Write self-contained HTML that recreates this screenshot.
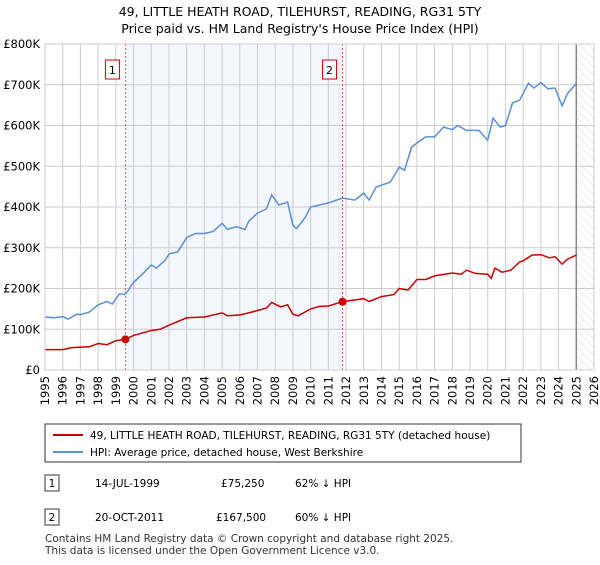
<!DOCTYPE html>
<html><head><meta charset="utf-8"><style>
body{margin:0;width:600px;height:560px;background:#fff;font-family:"Liberation Sans","DejaVu Sans",sans-serif;overflow:hidden}
svg text{font-family:"DejaVu Sans","Liberation Sans",sans-serif}
</style></head><body>
<svg width="600" height="560">
<defs><pattern id="hatch" width="6" height="6" patternUnits="userSpaceOnUse" patternTransform="rotate(-45)"><line x1="0" y1="0" x2="0" y2="6" stroke="#d8d8d8" stroke-width="1"/></pattern></defs>
<text x="300" y="16" text-anchor="middle" font-size="12.5">49, LITTLE HEATH ROAD, TILEHURST, READING, RG31 5TY</text>
<text x="300" y="33" text-anchor="middle" font-size="12.5">Price paid vs. HM Land Registry's House Price Index (HPI)</text>
<g id="plot"></g>
<g id="legend">
<rect x="45" y="424" width="476" height="38" fill="#fff" stroke="#333" stroke-width="1"/>
<line x1="53" y1="435" x2="83" y2="435" stroke="#cc0000" stroke-width="2"/>
<text x="90" y="439" font-size="10.5">49, LITTLE HEATH ROAD, TILEHURST, READING, RG31 5TY (detached house)</text>
<line x1="53" y1="452" x2="83" y2="452" stroke="#5b8fd6" stroke-width="2"/>
<text x="90" y="456" font-size="10.5">HPI: Average price, detached house, West Berkshire</text>
</g>
<g font-size="10.5">
<rect x="45" y="475" width="14" height="16" fill="#fff" stroke="#333"/><text x="52" y="487" text-anchor="middle">1</text>
<text x="95" y="487">14-JUL-1999</text><text x="221" y="487">£75,250</text><text x="295" y="487">62% ↓ HPI</text>
<rect x="45" y="509" width="14" height="16" fill="#fff" stroke="#333"/><text x="52" y="521" text-anchor="middle">2</text>
<text x="95" y="521">20-OCT-2011</text><text x="216" y="521">£167,500</text><text x="295" y="521">60% ↓ HPI</text>
</g>
<text x="45" y="542" font-size="10.5" fill="#333">Contains HM Land Registry data © Crown copyright and database right 2025.</text>
<text x="45" y="554" font-size="10.5" fill="#333">This data is licensed under the Open Government Licence v3.0.</text>
</svg>
<script>
const hpiYears=[1995,1995.5,1996,1996.3,1996.8,1997,1997.5,1998,1998.5,1998.8,1999.2,1999.5,1999.7,2000,2000.5,2001,2001.3,2001.8,2002,2002.5,2003,2003.5,2004,2004.5,2005,2005.3,2005.8,2006.3,2006.5,2007,2007.5,2007.8,2008.2,2008.7,2009,2009.2,2009.7,2010,2010.5,2011,2011.8,2012.5,2013,2013.3,2013.7,2014.5,2015,2015.3,2015.7,2016,2016.5,2017,2017.5,2018,2018.3,2018.8,2019.5,2020,2020.3,2020.7,2021,2021.4,2021.8,2022.3,2022.6,2023,2023.4,2023.8,2024.2,2024.5,2025];
const hpiValues=[130,128,131,125,137,136,142,160,168,162,187,185,195,215,235,258,250,270,285,290,325,335,335,340,360,345,352,345,365,385,395,430,405,412,355,347,375,400,405,410,422,417,434,417,449,461,498,490,547,557,572,572,596,590,600,588,588,564,618,596,600,655,662,704,692,705,690,692,648,678,703];
const ppYears=[1995,1996,1996.5,1997.5,1998,1998.5,1999,1999.54,2000,2001,2001.5,2002,2003,2004,2005,2005.3,2006,2006.5,2007.5,2007.8,2008.3,2008.7,2009,2009.3,2010,2010.5,2011,2011.8,2012.5,2013,2013.3,2014,2014.7,2015,2015.5,2016,2016.5,2017,2018,2018.5,2018.8,2019.3,2020,2020.2,2020.4,2020.8,2021.3,2021.8,2022,2022.5,2023,2023.5,2023.8,2024.2,2024.5,2025];
const ppValues=[50,50,55,57,65,62,72,75.25,85,97,100,110,128,130,140,133,135,140,152,166,155,160,137,133,150,156,157,167.5,172,175,168,180,185,200,196,222,222,231,238,235,245,237,235,225,250,240,245,265,268,282,283,275,278,260,272,282];
const saleYears=[1999.54,2011.8];
const saleValues=[75.25,167.5];
const saleLabels=["1","2"];
const yTicks=[0,100,200,300,400,500,600,700,800];
const yTickLabels=["£0","£100K","£200K","£300K","£400K","£500K","£600K","£700K","£800K"];
const xTicks=[1995,1996,1997,1998,1999,2000,2001,2002,2003,2004,2005,2006,2007,2008,2009,2010,2011,2012,2013,2014,2015,2016,2017,2018,2019,2020,2021,2022,2023,2024,2025,2026];
const X0=45,X1=594,Y0=370,Y1=44;
const sx=y=>X0+(y-1995)/(2026-1995)*(X1-X0);
const sy=v=>Y0-v/800*(Y0-Y1);
const NS="http://www.w3.org/2000/svg";
const g=document.getElementById('plot');
function mk(t,a,p){const e=document.createElementNS(NS,t);for(const k in a)e.setAttribute(k,a[k]);(p||g).appendChild(e);return e;}
let r=mk('rect',{x:sx(saleYears[0]),y:Y1,width:sx(saleYears[1])-sx(saleYears[0]),height:Y0-Y1,fill:'#f4f7fe'});


let h=mk('rect',{x:sx(2025),y:Y1,width:X1-sx(2025),height:Y0-Y1,fill:'url(#hatch)'});


xTicks.forEach(t=>{let l=mk('line',{x1:sx(t),x2:sx(t),y1:Y1,y2:Y0,stroke:'#ccc','stroke-width':1});


let tx=mk('text',{x:0,y:0,'font-size':11.5,'text-anchor':'end',transform:`translate(${sx(t)+4},${Y0+6}) rotate(-90)`});tx.textContent=t;

});
yTicks.forEach((t,i)=>{let l=mk('line',{x1:X0,x2:X1,y1:sy(t),y2:sy(t),stroke:'#ccc','stroke-width':1});


let tx=mk('text',{x:X0-5,y:sy(t)+4,'font-size':11.5,'text-anchor':'end'});tx.textContent=yTickLabels[i];

});
let vl=mk('line',{x1:sx(2025),x2:sx(2025),y1:Y1,y2:Y0,stroke:'#888','stroke-width':1.5});


saleYears.forEach((y,i)=>{let l=mk('line',{x1:sx(y),x2:sx(y),y1:Y1,y2:Y0,stroke:'#e05050','stroke-width':1,'stroke-dasharray':'2,2'});


let b=mk('rect',{x:sx(y)-20,y:60,width:14,height:19,fill:'#fff',stroke:'#cc0000'});


let t=mk('text',{x:sx(y)-13,y:74,'font-size':11,'text-anchor':'middle'});t.textContent=saleLabels[i];

});
const path=(xs,vs)=>xs.map((x,i)=>(i?'L':'M')+sx(x).toFixed(1)+','+sy(vs[i]).toFixed(1)).join('');
let hp=mk('path',{d:path(hpiYears,hpiValues),fill:'none',stroke:'#5b8fd6','stroke-width':1.5});


let pp=mk('path',{d:path(ppYears,ppValues),fill:'none',stroke:'#cc0000','stroke-width':1.5});


saleYears.forEach((y,i)=>{let c=mk('circle',{cx:sx(y),cy:sy(saleValues[i]),r:4,fill:'#cc0000'});

});
let bd=mk('rect',{x:X0,y:Y1,width:X1-X0,height:Y0-Y1,fill:'none',stroke:'#ccc'});


</script>
</body></html>
